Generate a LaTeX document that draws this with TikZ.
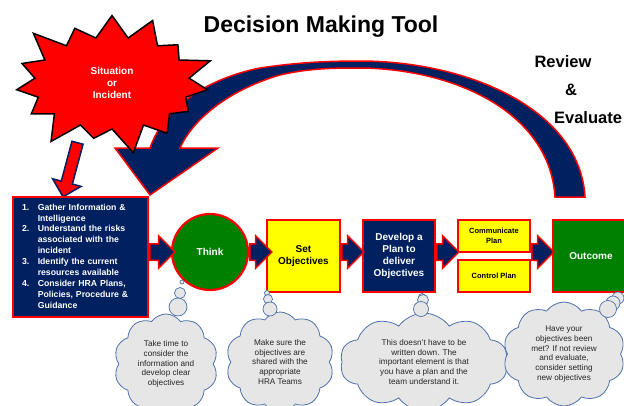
\documentclass[tikz,border=0pt]{standalone}
\usepackage{fontspec}
\setmainfont{Liberation Sans}
\usetikzlibrary{positioning,shapes.symbols,shapes.arrows,shapes.geometric}
\definecolor{navy}{HTML}{002060}
\definecolor{hrared}{HTML}{FF0000}
\definecolor{hragreen}{HTML}{008000}
\definecolor{hrayellow}{HTML}{FFFF00}
\definecolor{cloudfill}{HTML}{E6E6E6}
\definecolor{cloudline}{HTML}{4E70A8}
\definecolor{cloudtext}{HTML}{262626}

\begin{document}
\begin{tikzpicture}[x=1pt,y=-1pt,
  box/.style={draw=hrared, line width=2.2pt, minimum width=72pt, minimum height=72pt,
    align=center, font=\bfseries\fontsize{10}{12}\selectfont, inner sep=1pt},
  navybox/.style={box, fill=navy, text=white},
  yellowbox/.style={box, fill=hrayellow, text=black},
  greenbox/.style={box, fill=hragreen, text=white},
  blockarrow/.style={single arrow, draw=hrared, fill=navy, line width=1.5pt,
    single arrow head extend=8pt, inner xsep=0pt, inner ysep=7.5pt,
    minimum height=#1, anchor=tail},
  thought/.style={cloud, cloud puffs=10, cloud puff arc=110, cloud ignores aspect,
    draw=cloudline, fill=cloudfill, line width=0.8pt, align=center, text=cloudtext,
    font=\fontsize{8.2}{9.8}\selectfont, inner sep=0pt},
  bubble/.style={circle, draw=cloudline, fill=cloudfill, line width=0.7pt,
    inner sep=0pt, minimum size=#1},
  bigword/.style={font=\bfseries\fontsize{16.5}{20}\selectfont}
]
\useasboundingbox (0,0) rectangle (624,405);

% title
\node[font=\bfseries\fontsize{23}{27}\selectfont] (title) at (321,27) {Decision Making Tool};

% review loop
\draw[draw=hrared, fill=navy, line width=1.5pt, line join=miter]
  (585,197) .. controls (580,110) and (470,62) .. (363,61)
  .. controls (330,61) and (300,62) .. (260,68)
  .. controls (210,78) and (165,105) .. (150,148)
  -- (115,148) -- (150,195) -- (218,148) -- (180,148)
  .. controls (195,115) and (235,88) .. (280,75)
  .. controls (310,68) and (335,68) .. (363,68)
  .. controls (460,70) and (550,115) .. (555,197) -- cycle;
\node[bigword] (review) at (563,62) {Review};
\node[bigword] (amp) at (571,90) {\&};
\node[bigword] (evaluate) at (588,118) {Evaluate};

% situation
\node[starburst, starburst points=15, starburst point height=30pt,
  minimum width=215pt, minimum height=152pt, fill=hrared, draw=black,
  line width=1.5pt, text=white, align=center,
  font=\bfseries\fontsize{10}{12}\selectfont] (incident) at (112,83)
  {Situation\\or\\Incident};
\node[single arrow, draw=navy, fill=hrared, line width=1.5pt,
  single arrow head extend=9pt, inner xsep=0pt, inner ysep=5pt, minimum height=56pt,
  rotate=-105] (sitarrow) at (71,167) {};

% main row
\node[navybox, minimum width=135pt, minimum height=120pt, align=left,
  text width=117pt, inner xsep=9pt,
  font=\bfseries\fontsize{8.7}{10.9}\selectfont] (info) at (80.5,257)
  {\begin{tabular}{@{}l@{\hspace{8.5pt}}l@{}}
   1. & Gather Information \&\\
      & Intelligence\\
   2. & Understand the risks\\
      & associated with the\\
      & incident\\
   3. & Identify the current\\
      & resources available\\
   4. & Consider HRA Plans,\\
      & Policies, Procedure \&\\
      & Guidance
   \end{tabular}};
\node[circle, draw=hrared, fill=hragreen, line width=2.2pt, minimum size=76pt,
  text=white, font=\bfseries\fontsize{10}{12}\selectfont] (think) at (210,252) {Think};
\node[yellowbox, minimum width=73pt] (setobj) at (303.5,256) {Set\\Objectives};
\node[navybox] (develop) at (399,256) {Develop a\\Plan to\\deliver\\Objectives};
\node[yellowbox, minimum height=32pt, font=\bfseries\fontsize{7.5}{9.5}\selectfont]
  (communicate) at (494,236) {Communicate\\Plan};
\node[yellowbox, minimum height=32pt, font=\bfseries\fontsize{7.5}{9.5}\selectfont]
  (control) at (494,276) {Control Plan};
\node[greenbox, minimum width=76pt] (outcome) at (591,256) {Outcome};

\node[blockarrow=25pt] (arrowA) at (info.east |- think.center) {};
\node[blockarrow=22pt] (arrowB) at (think.east) {};
\node[blockarrow=22pt] (arrowC) at (setobj.east |- think.center) {};
\node[blockarrow=22pt] (arrowD) at (develop.east |- think.center) {};
\node[blockarrow=22pt] (arrowE) at (communicate.east |- think.center) {};

% thoughts
\node[thought, minimum width=104pt, minimum height=100pt] (thinkcloud) at (166,364)
  {Take time to\\consider the\\information and\\develop clear\\objectives};
\node[thought, minimum width=108pt, minimum height=100pt] (setcloud) at (280,362)
  {Make sure the\\objectives are\\shared with the\\appropriate\\HRA Teams};
\node[thought, minimum width=168pt, minimum height=98pt] (plancloud) at (424,362)
  {This doesn't have to be\\written down. The\\important element is that\\you have a plan and the\\team understand it.};
\node[thought, minimum width=122pt, minimum height=104pt] (outcomecloud) at (564,354)
  {Have your\\objectives been\\met? If not review\\and evaluate,\\consider setting\\new objectives};

\node[bubble=4pt] (b1) at (182,282) {};
\node[bubble=11pt] (b2) at (180,293) {};
\node[bubble=18pt] (b3) at (178,307) {};
\node[bubble=5pt] (b4) at (267,293) {};
\node[bubble=9pt] (b5) at (268,299) {};
\node[bubble=14pt] (b6) at (270,309) {};
\node[bubble=7pt] (b7) at (422,297) {};
\node[bubble=11pt] (b8) at (423,300) {};
\node[bubble=15pt] (b9) at (421,309) {};
\node[bubble=12pt] (b10) at (618,298) {};
\node[bubble=14pt] (b11) at (613,303) {};
\node[bubble=17pt] (b12) at (608,309) {};
\end{tikzpicture}
\end{document}
